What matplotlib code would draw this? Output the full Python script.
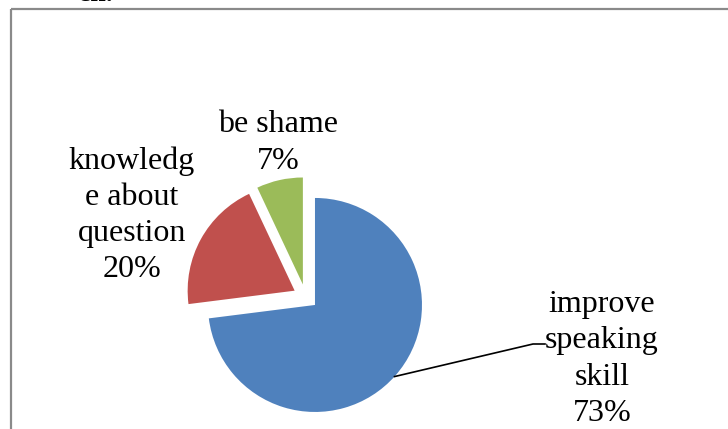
import numpy as np
from matplotlib import pyplot as plt

labels = ["improve\nspeaking\nskill", "knowledg\ne about\nquestion", "be shame"]
values = [73, 20, 7]
colors = ["#4F81BD", "#C0504D", "#9BBB59"]

W, H = 728, 429
plt.rcParams['font.family'] = ['Liberation Serif', 'DejaVu Serif']

fig = plt.figure(figsize=(W / 100, H / 100), dpi=100)
ax = fig.add_axes([0, 0, 1, 1])

# frame of the chart area (only top and left edges are visible)
ax.plot([10.5, W], [H - 8.5, H - 8.5], color='#8a8a8a', lw=1.6, solid_capstyle='butt')
ax.plot([10.5, 10.5], [0, H - 8.5], color='#8a8a8a', lw=1.6, solid_capstyle='butt')
ax.text(78, H - 1, "ch.", fontsize=20, fontweight='bold', va='baseline')

wedges, _ = ax.pie(values, colors=colors, startangle=90, counterclock=False,
                   explode=[12.5, 12.5, 12.5], radius=107, center=(305.6, 132.3),
                   wedgeprops=dict(edgecolor='none'), frame=True)
ax.set_xlim(0, W)
ax.set_ylim(0, H)
ax.set_aspect('equal')
ax.axis('off')

txt = [f"{l}\n{v}%" for l, v in zip(labels, values)]
fs = 23
ls = 1.32
ax.text(602, H - 359, txt[0], fontsize=fs, ha='center', va='center', multialignment='center', linespacing=ls)
ax.text(132, H - 215, txt[1], fontsize=fs, ha='center', va='center', multialignment='center', linespacing=ls)
ax.text(278, H - 143, txt[2], fontsize=fs, ha='center', va='center', multialignment='center', linespacing=ls)

# leader line for the big slice
cx, cy = wedges[0].center
r = wedges[0].r
a = np.deg2rad(-42)
p0 = (cx + r * np.cos(a), cy + r * np.sin(a))
ax.plot([p0[0], 533, 545], [p0[1], H - 344, H - 344], color='black', lw=1.2)

fig.savefig("out.png", dpi=100)
